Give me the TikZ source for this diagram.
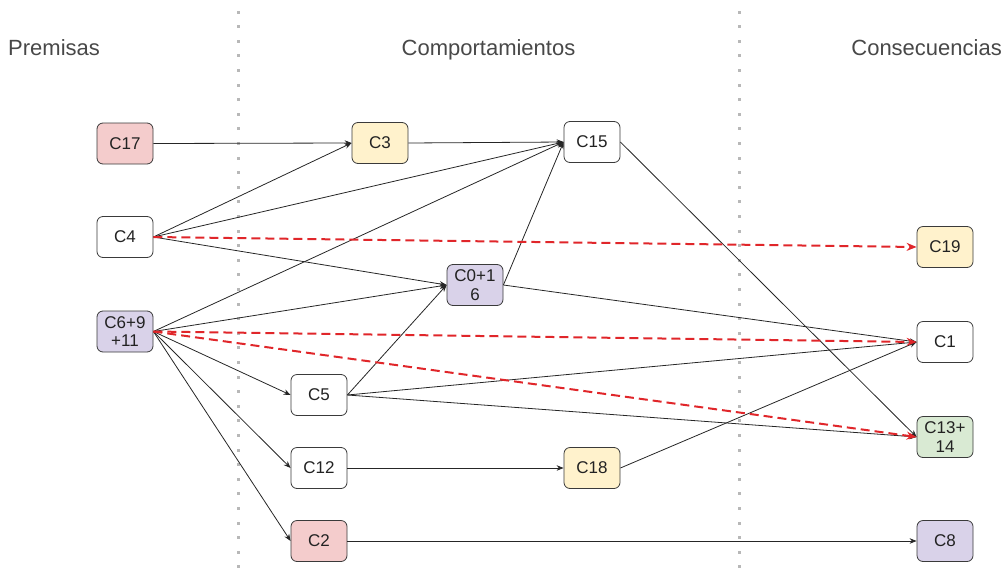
\documentclass[tikz,border=0pt]{standalone}
\usepackage{fontspec}
\setmainfont{Liberation Sans}
\usetikzlibrary{arrows.meta}

\definecolor{boxline}{HTML}{3A3A3A}
\definecolor{txt}{HTML}{222222}
\definecolor{head}{HTML}{484848}
\definecolor{fpink}{HTML}{F4CCCC}
\definecolor{fyellow}{HTML}{FFF2CC}
\definecolor{fpurple}{HTML}{D9D2E9}
\definecolor{fgreen}{HTML}{D9EAD3}
\definecolor{dashred}{HTML}{E0262A}
\definecolor{dotgray}{HTML}{B8B8B8}

\begin{document}
\begin{tikzpicture}[x=1pt,y=-1pt,
  box/.style={draw=boxline, fill=white, rounded corners=6pt, minimum width=56pt,
    minimum height=41pt, inner sep=0pt, align=center, text=txt,
    font=\fontsize{17}{18.5}\selectfont, line width=0.8pt},
  header/.style={text=head, font=\fontsize{22}{26}\selectfont, inner sep=0pt},
  flow/.style={draw=black!85, line width=0.8pt, -{Stealth[length=7pt,width=5.5pt]}},
  cause/.style={draw=dashred, line width=2pt, dash pattern=on 9pt off 5pt,
    -{Stealth[length=10pt,width=8pt]}},
  sep/.style={fill=dotgray}
]
\useasboundingbox (0,0) rectangle (1006,581);

% column separators
\foreach \cx in {238,739}{
  \foreach \k in {0,...,38}{
    \fill[sep] ({\cx-1.5},{12+14.6*\k-1.5}) rectangle ++(3,3);
  }
}

% column headings
\node[header, anchor=base west] (hprem) at (8,55) {Premisas};
\node[header, anchor=base] (hcomp) at (488.5,55) {Comportamientos};
\node[header, anchor=base east] (hcons) at (1002,55) {Consecuencias};

% premises
\node[box, fill=fpink]   (c17) at (125,143.5) {C17};
\node[box]               (c4)  at (125,237)   {C4};
\node[box, fill=fpurple] (c6)  at (125,331.5) {C6+9\\+11};

% behaviours
\node[box, fill=fyellow] (c3)  at (380,143)   {C3};
\node[box]               (c15) at (592,142)   {C15};
\node[box, fill=fpurple] (c0)  at (475,285)   {C0+1\\6};
\node[box]               (c5)  at (319,395)   {C5};
\node[box]               (c12) at (319,468)   {C12};
\node[box, fill=fyellow] (c18) at (592,468)   {C18};
\node[box, fill=fpink]   (c2)  at (319,541)   {C2};

% consequences
\node[box, fill=fyellow] (c19) at (945,247)   {C19};
\node[box]               (c1)  at (945,342)   {C1};
\node[box, fill=fgreen]  (c13) at (945,437)   {C13+\\14};
\node[box, fill=fpurple] (c8)  at (945,541)   {C8};

% solid connectors
\draw[flow] (c17.east) -- (c3.west);
\draw[flow] (c4.east) -- (c3.west);
\draw[flow] (c4.east) -- (c15.west);
\draw[flow] (c4.east) -- (c0.west);
\draw[flow] (c6.east) -- (c15.west);
\draw[flow] (c6.east) -- (c0.west);
\draw[flow] (c6.east) -- (c5.west);
\draw[flow] (c6.east) -- (c12.west);
\draw[flow] (c6.east) -- (c2.west);
\draw[flow] (c3.east) -- (c15.west);
\draw[flow] (c5.east) -- (c0.west);
\draw[flow] (c0.east) -- (c15.west);
\draw[flow] (c0.east) -- (c1.west);
\draw[flow] (c5.east) -- (c1.west);
\draw[flow] (c5.east) -- (c13.west);
\draw[flow] (c15.east) -- (c13.west);
\draw[flow] (c12.east) -- (c18.west);
\draw[flow] (c18.east) -- (c1.west);
\draw[flow] (c2.east) -- (c8.west);

% dashed connectors
\draw[cause] (c4.east) -- (c19.west);
\draw[cause] (c6.east) -- (c1.west);
\draw[cause] (c6.east) -- (c13.west);
\end{tikzpicture}
\end{document}
